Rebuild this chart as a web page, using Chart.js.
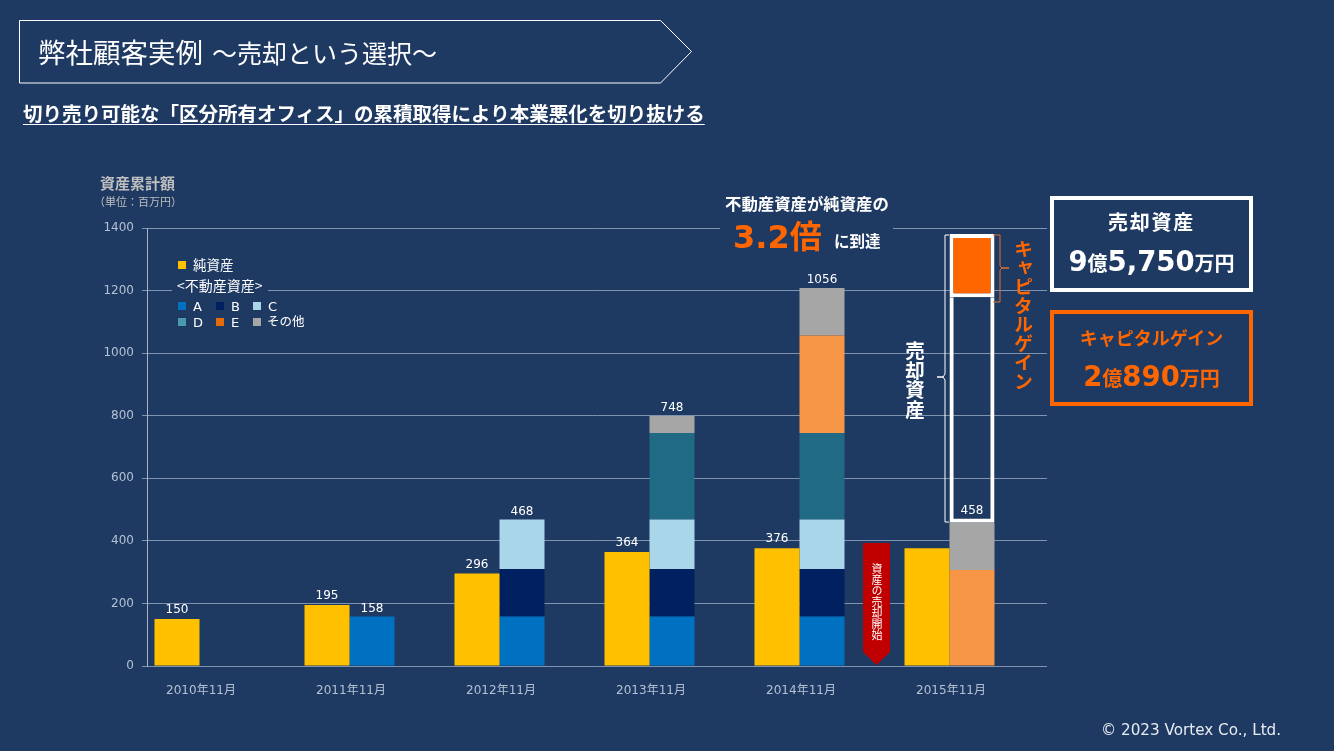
<!DOCTYPE html>
<html lang="ja">
<head>
<meta charset="utf-8">
<script src="https://cdn.jsdelivr.net/npm/chart.js@4"></script>
<style>
html,body{margin:0;padding:0;background:#1F3A62;width:1334px;height:751px;overflow:hidden}
body{position:relative;font-family:"DejaVu Sans","Noto Sans CJK JP",sans-serif;color:#fff}
canvas{position:absolute;left:0;top:0}
svg{position:absolute;left:0;top:0}
.t{position:absolute;white-space:nowrap;line-height:1;font-family:"DejaVu Sans","Noto Sans CJK JP",sans-serif}
.jp{font-family:"Noto Sans CJK JP",sans-serif}
.b{font-weight:700}
.v{writing-mode:vertical-rl}
.sw{position:absolute;width:8px;height:8px}
.box{position:absolute;box-sizing:border-box;background:#1F3A62;left:1050px;width:203px;height:96px;border-width:4.5px;border-style:solid}
.c{left:1050px;width:203px;text-align:center}
.mask{position:absolute;background:#1F3A62}
</style>
</head>
<body>
<canvas id="c" width="1334" height="751"></canvas>
<svg width="1334" height="751" fill="none">
  <polygon points="19.5,20.5 660.5,20.5 691.5,51.5 660.5,83 19.5,83" stroke="#fff" stroke-width="1"/>
  <path d="M949,235 h-4 V374 l-2,3 h-6 h6 l2,3 V522 h4" stroke="#fff" stroke-width="1"/>
  <path d="M993,235 h7 V266 l2,2 h7 h-7 l-2,2 V302 h-7" stroke="#E2702E" stroke-width="1"/>
  <polygon points="863,543 890,543 890,652 876.5,665 863,652" fill="#C00000"/>
</svg>

<div class="t jp" style="left:38px;top:38px;font-size:27.5px">弊社顧客実例</div>
<div class="t jp" style="left:212px;top:40px;font-size:25px">～売却という選択～</div>
<div class="t jp b" style="left:23px;top:103px;font-size:19.5px;text-decoration:underline;text-underline-offset:3px">切り売り可能な「区分所有オフィス」の累積取得により本業悪化を切り抜ける</div>

<div class="t jp b" style="left:100px;top:175px;font-size:15px;color:#BFBFBF">資産累計額</div>
<div class="t jp" style="left:94px;top:196px;font-size:11px;color:#BFBFBF">（単位：百万円）</div>

<div class="mask" style="left:172px;top:280px;width:96px;height:17px"></div>
<div class="sw" style="left:178px;top:261px;background:#FFC000"></div>
<div class="t jp" style="left:193px;top:258px;font-size:13.5px">純資産</div>
<div class="t jp" style="left:177px;top:278px;font-size:14px">&lt;不動産資産&gt;</div>
<div class="sw" style="left:178px;top:302px;background:#0070C0"></div>
<div class="t" style="left:193px;top:300px;font-size:13px">A</div>
<div class="sw" style="left:216px;top:302px;background:#002060"></div>
<div class="t" style="left:231px;top:300px;font-size:13px">B</div>
<div class="sw" style="left:253px;top:302px;background:#A9D6E8"></div>
<div class="t" style="left:268px;top:300px;font-size:13px">C</div>
<div class="sw" style="left:178px;top:318px;background:#4A9AAE"></div>
<div class="t" style="left:193px;top:316px;font-size:13px">D</div>
<div class="sw" style="left:216px;top:318px;background:#E36C09"></div>
<div class="t" style="left:231px;top:316px;font-size:13px">E</div>
<div class="sw" style="left:253px;top:318px;background:#A6A6A6"></div>
<div class="t jp" style="left:267px;top:315px;font-size:12.5px">その他</div>

<div class="mask" style="left:720px;top:224px;width:173px;height:10px"></div>
<div class="t jp b" style="left:725px;top:195px;font-size:16.4px">不動産資産が純資産の</div>
<div class="t b" style="left:733px;top:218px;font-size:32px;color:#FF6600">3.2<span class="jp" style="font-size:32px">倍</span></div>
<div class="t jp b" style="left:834px;top:233px;font-size:15.5px">に到達</div>

<div class="t jp b v" style="left:905px;top:341px;font-size:19.5px">売却資産</div>
<div class="t jp b v" style="left:1014px;top:239px;font-size:19px;color:#FF6600">キャピタルゲイン</div>

<div class="t jp v" style="left:871px;top:563px;font-size:11px">資産の売却開始</div>

<div class="box" style="top:196px;border-color:#fff"></div>
<div class="t jp b c" style="top:212px;font-size:20px;letter-spacing:1.8px">売却資産</div>
<div class="t b c" style="top:248px;font-size:27.5px">9<span class="jp" style="font-size:20px">億</span>5,750<span class="jp" style="font-size:20px">万円</span></div>
<div class="box" style="top:310px;border-color:#FF6600"></div>
<div class="t jp b c" style="top:328px;font-size:18px;color:#FF6600">キャピタルゲイン</div>
<div class="t b c" style="top:363px;font-size:27.5px;color:#FF6600">2<span class="jp" style="font-size:20px">億</span>890<span class="jp" style="font-size:20px">万円</span></div>

<div class="t" style="left:1101px;top:723px;font-size:15.2px;color:#E8ECF2">© 2023 Vortex Co., Ltd.</div>

<script>
const categories = ['2010年11月','2011年11月','2012年11月','2013年11月','2014年11月','2015年11月'];
const netAssets  = [150,195,296,364,376,376];
const assetA     = [null,158,158,158,158,null];
const assetB     = [null,null,152,152,152,null];
const assetC     = [null,null,158,158,158,null];
const assetD     = [null,null,null,277,277,null];
const assetE     = [null,null,null,null,311,307];
const assetOther = [null,null,null,54,152,151];
const soldBox    = [null,null,null,null,null,721];
const gainBox    = [null,null,null,null,null,202];
const emptySlot  = [0,0,0,0,0,0];
const netLabels   = ['150','195','296','364','376',null];
const assetLabels = [null,'158','468','748','1056','458'];
const yTicks = [0,200,400,600,800,1000,1200,1400];

const FONT = '"DejaVu Sans","Noto Sans CJK JP",sans-serif';
const BOX_BORDER = 4;

const valueLabels = {
  id:'valueLabels',
  afterDatasetsDraw(chart){
    const ctx = chart.ctx;
    ctx.save();
    ctx.font = '12px ' + FONT;
    ctx.fillStyle = '#fff';
    ctx.textAlign = 'center';
    ctx.textBaseline = 'bottom';
    const net = chart.getDatasetMeta(0).data;
    const others = chart.getDatasetMeta(6).data;
    categories.forEach((_,i)=>{
      if(netLabels[i]) ctx.fillText(netLabels[i], net[i].x, net[i].y - 3);
      if(assetLabels[i]){
        const top = [assetA,assetB,assetC,assetD,assetE,assetOther].reduce((s,a)=>s+(a[i]||0),0);
        const y = chart.scales.y.getPixelForValue(top);
        const lift = soldBox[i] ? BOX_BORDER : 0;
        ctx.fillText(assetLabels[i], others[i].x, y - 2 - lift);
      }
    });
    ctx.restore();
  }
};

const ds = (label,data,color,stack,extra)=>Object.assign({label,data,backgroundColor:color,stack,borderWidth:0},extra||{});

new Chart(document.getElementById('c'),{
  type:'bar',
  data:{
    labels:categories,
    datasets:[
      ds('純資産',netAssets,'#FFC000','net'),
      ds('A',assetA,'#0070C0','asset'),
      ds('B',assetB,'#002060','asset'),
      ds('C',assetC,'#A9D6E8','asset'),
      ds('D',assetD,'#216A86','asset'),
      ds('E',assetE,'#F79646','asset'),
      ds('その他',assetOther,'#A6A6A6','asset'),
      ds('売却資産',soldBox,'rgba(0,0,0,0)','asset',{borderColor:'#fff',borderWidth:BOX_BORDER,borderSkipped:'top'}),
      ds('キャピタルゲイン',gainBox,'#FF6600','asset',{borderColor:'#fff',borderWidth:BOX_BORDER,borderSkipped:false}),
      ds('',emptySlot,'rgba(0,0,0,0)','slot')
    ]
  },
  options:{
    responsive:false,
    animation:false,
    categoryPercentage:0.9,
    barPercentage:1,
    layout:{padding:{left:100,right:287,top:228,bottom:40}},
    plugins:{legend:{display:false},tooltip:{enabled:false}},
    scales:{
      x:{
        stacked:true,
        grid:{display:false},
        border:{display:false},
        afterFit(s){s.height=45;},
        ticks:{color:'#B4C1D4',font:{size:12,family:FONT},padding:10,labelOffset:-21,maxRotation:0,autoSkip:false}
      },
      y:{
        stacked:true,
        min:0,max:1400,
        afterFit(s){s.width=47;},
        afterBuildTicks(s){s.ticks=yTicks.map(v=>({value:v}));},
        grid:{color:'#8093AE',lineWidth:1,tickLength:5,tickColor:'#8093AE'},
        border:{display:true,color:'#A9B6C9',width:1},
        ticks:{color:'#B4C1D4',font:{size:12,family:FONT},padding:8,callback:v=>String(v)}
      }
    }
  },
  plugins:[valueLabels]
});
</script>
</body>
</html>
